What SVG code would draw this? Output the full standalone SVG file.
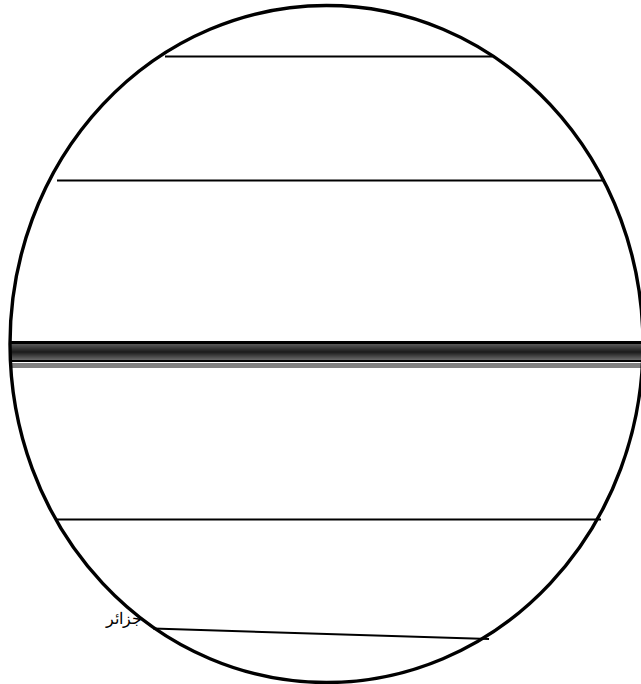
<svg xmlns="http://www.w3.org/2000/svg" width="641" height="684" viewBox="0 0 641 684">
<style>
.ln{stroke:#000;stroke-width:2;fill:none}
.rim{stroke:#000;stroke-width:3.4;fill:none}
.lbl{font-family:"Liberation Serif","DejaVu Serif",serif;font-size:16px;fill:#000}
</style>
<defs>
<linearGradient id="band" x1="0" y1="0" x2="0" y2="1">
<stop offset="0" stop-color="#5a5a5a"/>
<stop offset="0.5" stop-color="#1a1a1a"/>
<stop offset="1" stop-color="#6a6a6a"/>
</linearGradient>
</defs>
<rect width="641" height="684" fill="#fff"/>
<g id="label">
<text class="lbl" x="142" y="624" text-anchor="end">جزائر</text>
</g>
<g id="band-node">
<rect x="11" y="363" width="630" height="5" fill="#808080"/>
<rect x="11" y="341" width="630" height="3" fill="#000"/>
<rect x="11" y="344" width="630" height="16" fill="url(#band)"/>
<rect x="11" y="360" width="630" height="2" fill="#000"/>
</g>
<g id="connectors">
<line class="ln" x1="165" y1="56.5" x2="492" y2="56.5"/>
<line class="ln" x1="57" y1="180.5" x2="605" y2="180.5"/>
<line class="ln" x1="57" y1="519.5" x2="601" y2="519.5"/>
<line class="ln" x1="153" y1="628.5" x2="489" y2="639"/>
</g>
<g id="circle">
<ellipse class="rim" cx="326.5" cy="344" rx="316.5" ry="338.5"/>
</g>
</svg>
